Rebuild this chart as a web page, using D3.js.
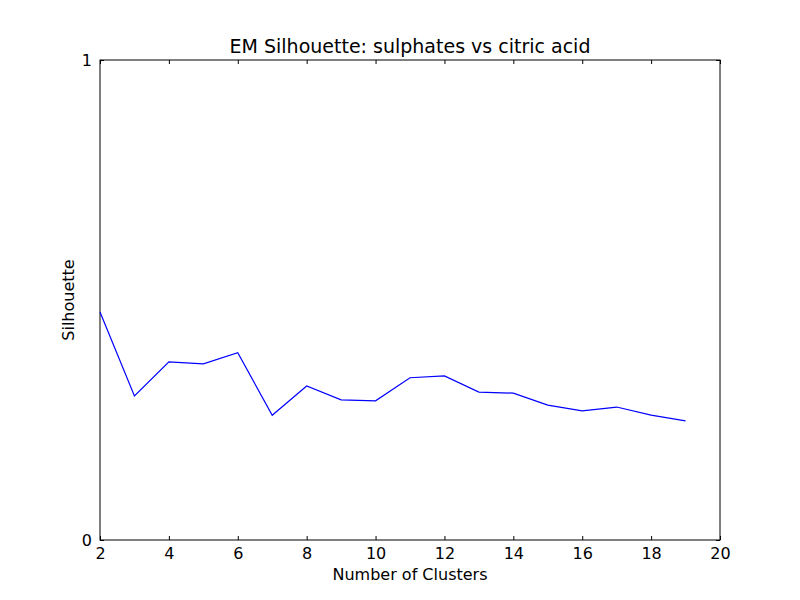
<!DOCTYPE html>
<html><head><meta charset="utf-8">
<script src="https://cdn.jsdelivr.net/npm/d3@7"></script>
<style>body{margin:0;background:#fff}text{font-family:"DejaVu Sans",sans-serif}</style>
</head><body><div id="chart"></div>
<script>
const clusters = [2,3,4,5,6,7,8,9,10,11,12,13,14,15,16,17,18,19];
const silhouette = [0.475,0.300,0.371,0.367,0.390,0.260,0.321,0.292,0.290,0.338,0.342,0.308,0.306,0.281,0.269,0.277,0.260,0.248];
const xTicks = [2,4,6,8,10,12,14,16,18,20];
const yTicks = [0,1];

const M = { top: 60, right: 80, bottom: 60, left: 100 };
const W = 800, H = 600;
const iw = W - M.left - M.right, ih = H - M.top - M.bottom;

const svg = d3.select("#chart").append("svg").attr("width", W).attr("height", H);
const g = svg.append("g").attr("transform", `translate(${M.left},${M.top})`);

const x = d3.scaleLinear().domain([2, 20]).range([0, iw]);
const y = d3.scaleLinear().domain([0, 1]).range([ih, 0]);

const styleAxis = a => {
  a.select(".domain").remove();
  a.selectAll("text").attr("font-size", 16).attr("fill", "#000");
  a.selectAll("line").attr("stroke", "#000");
};

g.append("g").attr("transform", `translate(0,${ih})`)
  .call(d3.axisBottom(x).tickValues(xTicks).tickSizeInner(-4).tickSizeOuter(0).tickPadding(8))
  .call(styleAxis);
g.append("g")
  .call(d3.axisTop(x).tickValues(xTicks).tickSizeInner(-4).tickSizeOuter(0).tickFormat(""))
  .call(styleAxis);
g.append("g")
  .call(d3.axisLeft(y).tickValues(yTicks).tickSizeInner(-4).tickSizeOuter(0).tickPadding(8).tickFormat(d3.format("d")))
  .call(styleAxis);
g.append("g").attr("transform", `translate(${iw},0)`)
  .call(d3.axisRight(y).tickValues(yTicks).tickSizeInner(-4).tickSizeOuter(0).tickFormat(""))
  .call(styleAxis);

g.append("rect").attr("width", iw).attr("height", ih)
  .attr("fill", "none").attr("stroke", "#000").attr("stroke-width", 1);

const line = d3.line().x((d, i) => x(clusters[i])).y(d => y(d));
g.append("path").datum(silhouette).attr("d", line)
  .attr("fill", "none").attr("stroke", "#0000ff").attr("stroke-width", 1.2);

svg.append("text").attr("x", M.left + iw / 2).attr("y", 53).attr("text-anchor", "middle")
  .attr("font-size", 19).text("EM Silhouette: sulphates vs citric acid");
svg.append("text").attr("x", M.left + iw / 2).attr("y", 580).attr("text-anchor", "middle")
  .attr("font-size", 16).text("Number of Clusters");
svg.append("text").attr("transform", `translate(74,${M.top + ih / 2}) rotate(-90)`)
  .attr("text-anchor", "middle").attr("font-size", 16).text("Silhouette");
</script></body></html>
